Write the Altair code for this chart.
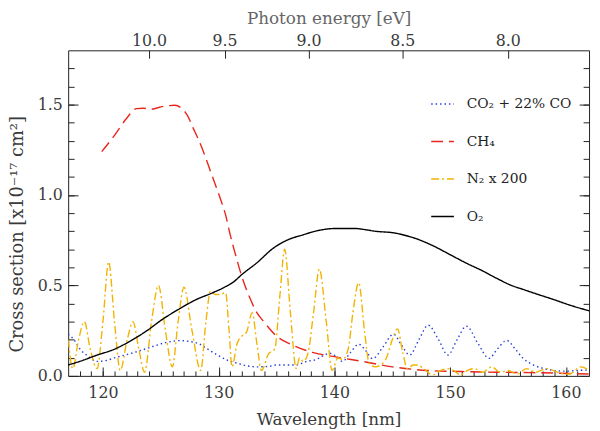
import altair as alt
import pandas as pd

# cross sections in units of 1e-17 cm^2 against wavelength in nm
co2_nm = [117.0, 117.5, 118.0, 118.7, 119.5, 120.3, 121.0, 121.9, 123.0, 124.2, 125.5, 126.7,
          127.5, 128.2, 129.0, 129.9, 130.8, 131.6, 132.5, 133.3, 134.3, 135.0, 136.0, 136.7,
          137.6, 138.4, 139.0, 139.6, 140.1, 140.7, 141.4, 142.1, 142.7, 143.3, 144.2, 145.1,
          145.8, 146.5, 147.3, 148.1, 149.0, 149.8, 150.6, 151.4, 152.4, 153.35, 154.1, 154.9,
          155.6, 156.3, 157.2, 158.0, 159.0, 160.0, 161.0, 162.0]
co2_xs = [0.23, 0.20, 0.15, 0.11, 0.08, 0.085, 0.10, 0.115, 0.135, 0.16, 0.185, 0.195,
          0.19, 0.18, 0.15, 0.115, 0.085, 0.07, 0.055, 0.05, 0.052, 0.06, 0.06, 0.06,
          0.08, 0.09, 0.11, 0.125, 0.11, 0.08, 0.13, 0.175, 0.14, 0.095, 0.16, 0.23,
          0.17, 0.115, 0.20, 0.28, 0.20, 0.115, 0.20, 0.275, 0.18, 0.097, 0.15, 0.196,
          0.15, 0.097, 0.06, 0.042, 0.03, 0.026, 0.03, 0.033]

ch4_nm = [119.9, 121.0, 122.0, 122.9, 123.5, 124.1, 125.2, 126.2, 126.8, 127.3, 127.8, 128.3,
          128.8, 129.3, 129.7, 130.2, 130.6, 131.0, 131.5, 132.0, 132.7, 133.3, 133.9, 135.0,
          136.4, 138.1, 140.1, 142.4, 145.0, 148.0, 151.0, 154.0, 157.0, 162.0]
ch4_xs = [1.24, 1.33, 1.42, 1.478, 1.48, 1.474, 1.49, 1.496, 1.48, 1.44, 1.37, 1.30,
          1.22, 1.13, 1.06, 0.97, 0.89, 0.78, 0.66, 0.55, 0.43, 0.35, 0.30, 0.22,
          0.17, 0.13, 0.105, 0.08, 0.05, 0.03, 0.024, 0.02, 0.018, 0.01]

n2_nm = [117.0, 117.4, 117.9, 118.4, 118.9, 119.5, 120.0, 120.5, 121.0, 121.5, 122.1, 122.6,
         123.1, 123.6, 124.2, 124.8, 125.4, 126.0, 126.5, 127.0, 127.7, 128.45, 128.9, 129.3,
         129.7, 130.1, 130.6, 130.9, 131.15, 131.6, 132.0, 132.4, 132.9, 133.3, 133.7, 134.3,
         134.85, 135.3, 135.7, 136.2, 136.7, 137.0, 137.3, 137.7, 138.2, 138.7, 139.3, 139.8,
         140.3, 140.7, 141.2, 141.6, 142.1, 142.6, 143.0, 143.5, 144.0, 144.5, 145.0, 145.45,
         145.9, 146.3, 146.8, 147.2, 147.7, 148.5, 149.2, 149.8, 150.3, 150.9, 151.5, 152.1,
         152.8, 153.6, 154.3, 155.0, 155.8, 156.6, 157.4, 158.3, 159.5, 160.3, 161.3, 162.0]
n2_xs = [0.20, 0.04, 0.20, 0.30, 0.15, 0.04, 0.30, 0.63, 0.30, 0.03, 0.20, 0.30,
         0.15, 0.02, 0.30, 0.50, 0.25, 0.05, 0.30, 0.49, 0.25, 0.03, 0.30, 0.47,
         0.45, 0.45, 0.46, 0.25, 0.05, 0.18, 0.22, 0.24, 0.35, 0.18, 0.03, 0.12,
         0.15, 0.45, 0.70, 0.35, 0.04, 0.10, 0.08, 0.12, 0.35, 0.59, 0.30, 0.03,
         0.10, 0.09, 0.15, 0.35, 0.515, 0.25, 0.07, 0.05, 0.06, 0.10, 0.20, 0.26,
         0.13, 0.04, 0.06, 0.06, 0.04, 0.005, 0.03, 0.04, 0.03, 0.005, 0.03, 0.04,
         0.02, 0.05, 0.02, 0.03, 0.01, 0.04, 0.02, 0.04, 0.015, 0.01, 0.05, 0.03]

o2_nm = [117.0, 118.0, 119.5, 120.9, 122.3, 123.8, 125.2, 126.6, 128.0, 129.5, 130.5, 131.3,
         132.0, 133.3, 134.7, 135.9, 137.3, 138.7, 140.1, 141.8, 142.5, 143.5, 145.2, 146.5,
         147.0, 148.5, 150.0, 151.5, 152.6, 154.0, 155.3, 156.3, 157.6, 158.9, 160.4, 162.0]
o2_xs = [0.06, 0.08, 0.115, 0.145, 0.19, 0.25, 0.315, 0.37, 0.42, 0.46, 0.49, 0.52,
         0.56, 0.625, 0.705, 0.75, 0.78, 0.805, 0.815, 0.815, 0.81, 0.80, 0.79, 0.77,
         0.76, 0.72, 0.67, 0.62, 0.587, 0.54, 0.50, 0.478, 0.45, 0.423, 0.39, 0.36]

series_names = ["CO₂ + 22% CO", "CH₄", "N₂ x 200", "O₂"]
series_colors = ["#2a3fd8", "#e8261c", "#f2b300", "#000000"]
series_dash = [[1.5, 3], [12, 6], [8, 3, 2, 3], [1, 0]]

x_major = [120, 130, 140, 150, 160]
x_minor = list(range(118, 162))
y_major = [0.0, 0.5, 1.0, 1.5]
y_minor = [i / 10 for i in range(1, 18)]
energy_ticks = [10.0, 9.5, 9.0, 8.5, 8.0]
HC = 1239.84  # eV nm
energy_pos = [HC / e for e in energy_ticks]

FONT = "DejaVu Serif"
TXT = "#3a3a3a"
TICK = "#222222"

frames = []
for name, nm, xs in zip(series_names, [co2_nm, ch4_nm, n2_nm, o2_nm], [co2_xs, ch4_xs, n2_xs, o2_xs]):
    frames.append(pd.DataFrame({"series": name, "nm": nm, "xs": xs}))
df = pd.concat(frames, ignore_index=True)

x_scale = alt.Scale(domain=[117, 162], nice=False, zero=False)
y_scale = alt.Scale(domain=[0, 1.8], nice=False)


def axis(orient, values, size, **kw):
    # ticks drawn inward: the axis is pulled into the plot by its own tick length
    opts = dict(orient=orient, values=values, tickSize=size, offset=-size, domain=False,
                grid=False, tickColor=TICK, tickWidth=1, labelFlush=False, labelOverlap=False)
    opts.update(kw)
    if "title" not in opts:
        opts["title"] = None
    if "labels" not in opts:
        opts.update(labelFont=FONT, labelFontSize=16, labelColor=TXT)
    return alt.Axis(**opts)


legend = alt.Legend(orient="none", legendX=367, legendY=42, title=None, padding=0,
                    symbolType="stroke", symbolSize=529, symbolStrokeWidth=1.5,
                    labelFont=FONT, labelFontSize=14, labelColor="#222",
                    labelOffset=12, rowPadding=18)

lines = alt.Chart(df).mark_line(strokeWidth=1.4, clip=True, interpolate="monotone").encode(
    x=alt.X("nm:Q", scale=x_scale,
            axis=axis("bottom", x_major, 9, labelPadding=9,
                      title="Wavelength [nm]", titleFont=FONT, titleFontSize=17,
                      titleFontWeight="normal", titleColor=TXT, titleBaseline="middle",
                      titleY=53)),
    y=alt.Y("xs:Q", scale=y_scale,
            axis=axis("left", y_major, 10, format=".1f", labelPadding=6,
                      title="Cross section [x10⁻¹⁷ cm²]", titleFont=FONT, titleFontSize=18,
                      titleFontWeight="normal", titleColor=TXT, titleBaseline="middle",
                      titleX=-61, titleY=186)),
    color=alt.Color("series:N", sort=series_names,
                    scale=alt.Scale(domain=series_names, range=series_colors),
                    legend=legend),
    strokeDash=alt.StrokeDash("series:N", sort=series_names,
                              scale=alt.Scale(domain=series_names, range=series_dash),
                              legend=legend),
)

carrier = alt.Chart(df).mark_point(size=0, opacity=0)

minor_a = carrier.encode(
    x=alt.X("nm:Q", scale=x_scale, axis=axis("bottom", x_minor, 5, labels=False)),
    y=alt.Y("xs:Q", scale=y_scale, axis=axis("left", y_minor, 6, labels=False)),
)

top_right = carrier.encode(
    x=alt.X("nm:Q", scale=x_scale,
            axis=axis("top", energy_pos, 8, labelPadding=2,
                      labelExpr=f"format({HC} / datum.value, '.1f')",
                      title="Photon energy [eV]", titleFont=FONT, titleFontSize=17,
                      titleFontWeight="normal", titleColor="#666", titleBaseline="middle",
                      titleY=-40)),
    y=alt.Y("xs:Q", scale=y_scale, axis=axis("right", y_major, 10, labels=False)),
)

minor_b = carrier.encode(
    x=alt.X("nm:Q", scale=x_scale, axis=None),
    y=alt.Y("xs:Q", scale=y_scale, axis=axis("right", y_minor, 6, labels=False)),
)

chart = alt.layer(lines, minor_a, top_right, minor_b).resolve_axis(
    x="independent", y="independent"
).properties(
    width=528,
    height=330,
    autosize=alt.AutoSizeParams(type="none"),
    padding={"left": 61, "top": 40, "right": 3, "bottom": 55},
).configure_view(
    stroke=TICK, strokeWidth=1
)

chart.save("out.html", embed_options={"renderer": "svg", "actions": False})
